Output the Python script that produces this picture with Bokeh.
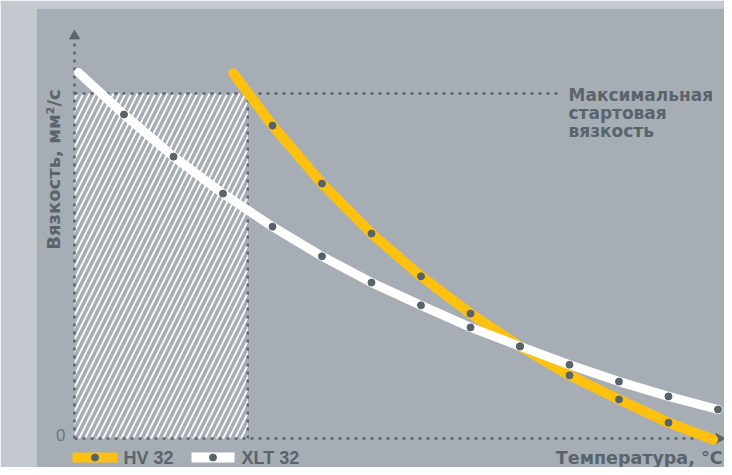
import math
from bokeh.plotting import figure
from bokeh.models import Range1d, Label
from bokeh.embed import file_html
from bokeh.resources import INLINE

# ---- data (temperature steps, viscosity in % of max starting viscosity) ----
xlt_line_t = [0.08, 1, 2, 3, 4, 5, 6, 7, 8, 9, 10, 11, 12, 13]
xlt_line_v = [106.1, 93.9, 81.7, 71.0, 61.4, 52.8, 45.2, 38.6, 32.2, 26.7, 21.4, 16.5, 12.2, 8.4]
xlt_dot_t = [1, 2, 3, 4, 5, 6, 7, 8, 9, 10, 11, 12, 13]
xlt_dot_v = [93.9, 81.7, 71.0, 61.4, 52.8, 45.2, 38.6, 32.2, 26.7, 21.4, 16.5, 12.2, 8.4]

hv_line_t = [3.21, 4, 5, 6, 7, 8, 9, 10, 11, 12, 12.9]
hv_line_v = [105.8, 90.7, 73.9, 59.4, 47.0, 36.2, 26.7, 18.3, 11.3, 4.6, -0.3]
hv_dot_t = [4, 5, 6, 7, 8, 9, 10, 11, 12]
hv_dot_v = [90.7, 73.9, 59.4, 47.0, 36.2, 26.7, 18.3, 11.3, 4.6]

max_start_visc = 100
temp_limit = 3.5
zero_label = "0"
series_names = ["HV 32", "XLT 32"]
y_title = "Вязкость, мм²/с"
x_title = "Температура, °C"
max_label = ["Максимальная", "стартовая", "вязкость"]

# ---- styling ----
PANEL = "#a7adb4"
STRIP = "#c4c9d0"
TXT = "#5a646c"
ZERO = "#6e767d"
DOT = "#55636b"
AXC = "#5c656d"
YEL = "#fec10f"
WHITE = "#ffffff"
FONT_LAT = "Liberation Sans"
FONT_CYR = "DejaVu Sans"

W, H = 724, 467
OX, SX = 74.0, 49.5     # x px of origin, px per temperature step
OY, SY = 438.0, 3.45    # y px of zero, px per viscosity unit
BORDER_L, BORDER_T = 36, 8
BASE_FIX = 5            # label baseline correction (px)


def X(px):
    return (px - OX) / SX


def Y(py):
    return (OY - py) / SY


p = figure(width=W, height=H, output_backend="svg", toolbar_location=None,
           x_axis_location=None, y_axis_location=None,
           x_range=Range1d(X(BORDER_L), X(W)),
           y_range=Range1d(Y(H), Y(BORDER_T)),
           min_border_left=BORDER_L, min_border_right=0,
           min_border_top=BORDER_T, min_border_bottom=0,
           background_fill_color=PANEL, border_fill_color=STRIP,
           outline_line_color=None)
p.xgrid.visible = False
p.ygrid.visible = False

# hatched zone
p.quad(left=[0], right=[temp_limit], bottom=[0], top=[max_start_visc],
       fill_color=None, line_color=None,
       hatch_pattern="/", hatch_color=WHITE, hatch_scale=12, hatch_weight=1.8)

DASH = "3 5"
p.line([0, X(560)], [max_start_visc, max_start_visc], line_color=AXC, line_width=2.5, line_dash=DASH)
p.line([temp_limit, temp_limit], [0, max_start_visc], line_color=AXC, line_width=2.5, line_dash=DASH)
p.line([0, 0], [0, Y(41)], line_color=AXC, line_width=2.5, line_dash=DASH)
p.line([0, X(713)], [0, 0], line_color=AXC, line_width=2.5, line_dash=DASH)
p.scatter([0], [Y(35.5)], marker="triangle", size=10, color=AXC)
p.scatter([X(718.5)], [0], marker="triangle", size=10, color=AXC, angle=-math.pi / 2)

# curves
p.line(hv_line_t, hv_line_v, line_color=YEL, line_width=10, line_cap="round", line_join="round")
p.line(xlt_line_t, xlt_line_v, line_color=WHITE, line_width=9, line_cap="round", line_join="round")
p.scatter(hv_dot_t, hv_dot_v, size=7, color=DOT)
p.scatter(xlt_dot_t, xlt_dot_v, size=7, color=DOT)

# legend swatches
p.quad(left=[X(72), X(191)], right=[X(117), X(234)], top=[Y(452), Y(452)], bottom=[Y(462), Y(462)],
       fill_color=[YEL, WHITE], line_color=None)
p.scatter([X(94.5), X(212.5)], [Y(457), Y(457)], size=7, color=DOT)


def lab(x, y, text, font=FONT_CYR, size="17px", style="bold", color=TXT, align="left",
        baseline="alphabetic", angle=0):
    p.add_layout(Label(x=x, y=y, text=text, text_font=font, text_font_size=size,
                       text_font_style=style, text_color=color, text_align=align,
                       text_baseline=baseline, angle=angle))


lab(X(123), Y(462 - BASE_FIX), series_names[0], font=FONT_LAT, size="18px")
lab(X(241), Y(462 - BASE_FIX), series_names[1], font=FONT_LAT, size="18px")
lab(X(722), Y(462 - BASE_FIX), x_title, size="17.5px", align="right")
lab(X(58 - BASE_FIX), Y(169), y_title, size="18px", align="center", angle=math.pi / 2)
lab(X(65), Y(439 - BASE_FIX), zero_label, font=FONT_LAT, size="17px", style="normal", color=ZERO, align="right")
for i, t in enumerate(max_label):
    lab(X(568), Y(99 + 18 * i - BASE_FIX), t)

open("out.html", "w").write(file_html(p, INLINE))
